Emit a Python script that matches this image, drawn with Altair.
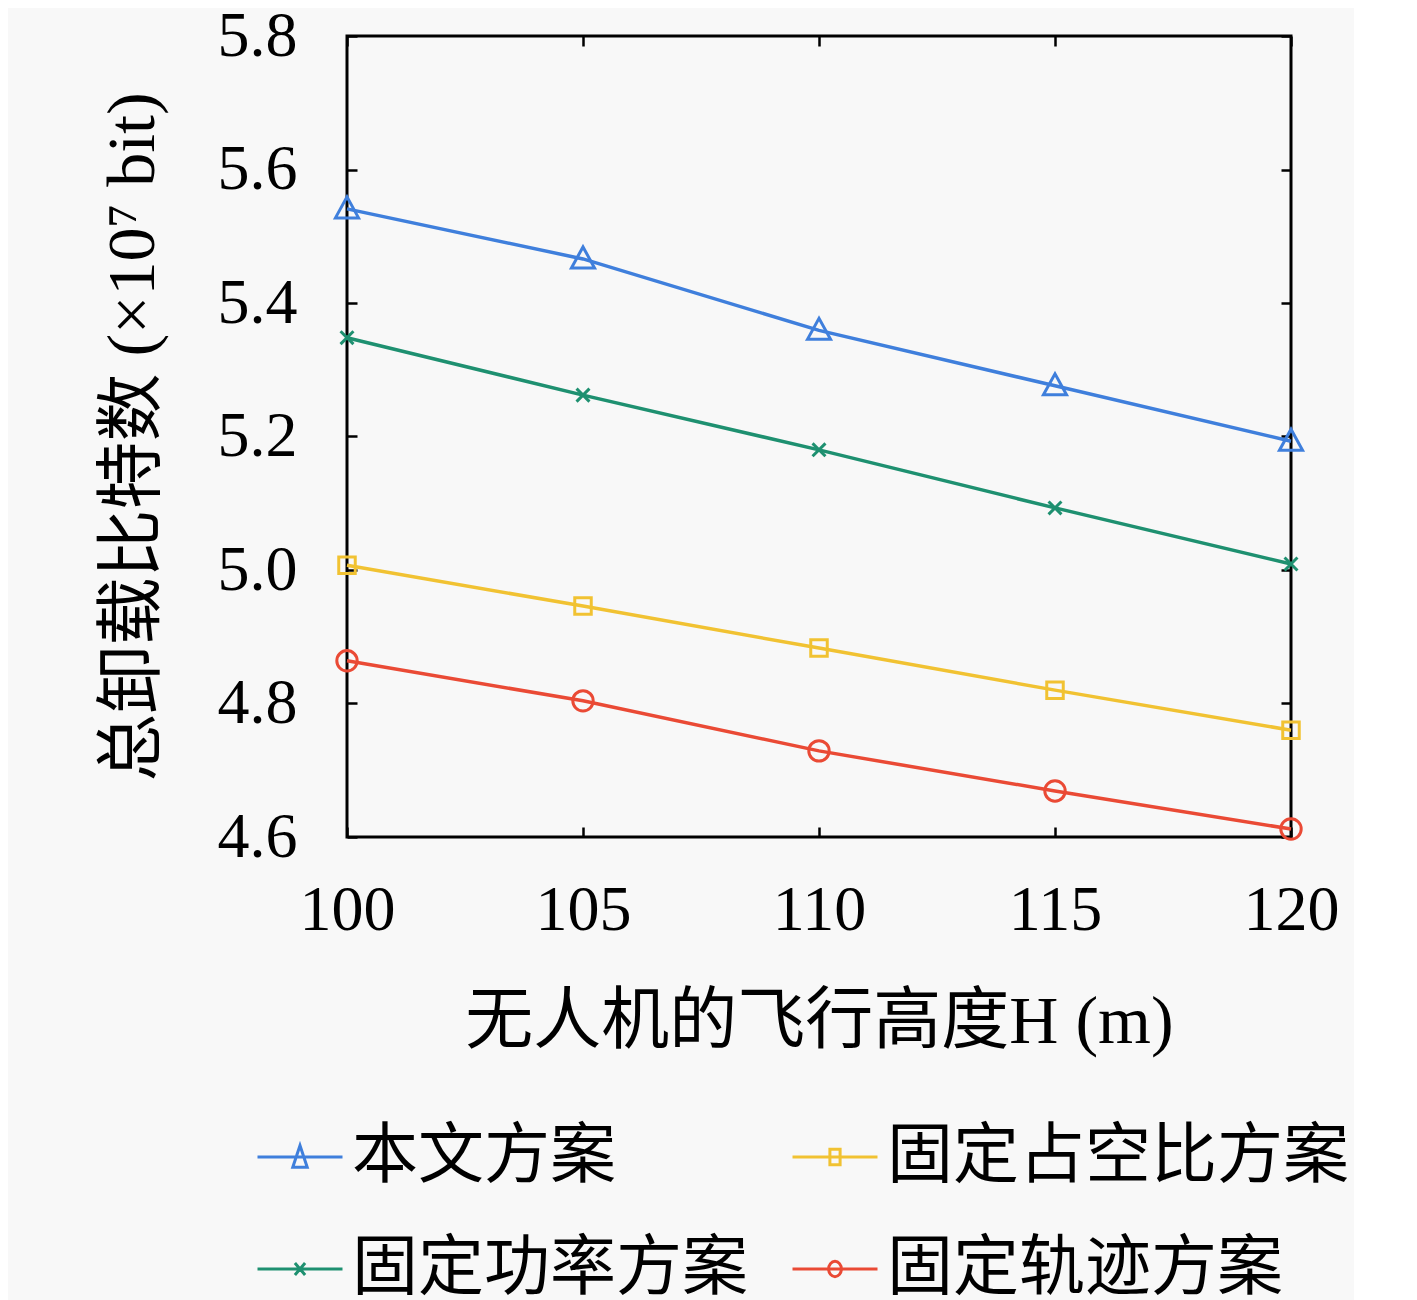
import pandas as pd
import altair as alt

heights = [100, 105, 110, 115, 120]

ours = [5.541, 5.466, 5.359, 5.276, 5.193]
fixed_power = [5.348, 5.262, 5.180, 5.093, 5.009]
fixed_duty = [5.007, 4.946, 4.883, 4.820, 4.760]
fixed_traj = [4.864, 4.804, 4.729, 4.669, 4.612]

# legend fills column by column: first column, then second column
series_names = ['本文方案', '固定功率方案', '固定占空比方案', '固定轨迹方案']
series_vals = [ours, fixed_power, fixed_duty, fixed_traj]
colors = ['#3f7fdc', '#1e9070', '#f1c232', '#ea4a35']

# marker outlines (unit = 15 px at size 900)
shapes = [
    'M-0.77,0.6L0,-0.8L0.77,0.6Z',
    'M-0.43,-0.43L0.43,0.43M-0.43,0.43L0.43,-0.43',
    'M-0.55,-0.55L0.55,-0.55L0.55,0.55L-0.55,0.55Z',
    'M0.68,0A0.68,0.68,0,1,1,-0.68,0A0.68,0.68,0,1,1,0.68,0',
]
# legend symbols: short line with the marker on it (unit = 42.5 px)
legend_shapes = [
    'M-1,0L1,0M-0.17,0.24L0,-0.27L0.17,0.24Z',
    'M-1,0L1,0M-0.12,-0.14L0.12,0.14M-0.12,0.14L0.12,-0.14',
    'M-1,0L1,0M-0.12,-0.18L0.12,-0.18L0.12,0.18L-0.12,0.18Z',
    'M-1,0L1,0M0.15,0A0.15,0.18,0,1,1,-0.15,0A0.15,0.18,0,1,1,0.15,0',
]

rows = []
for name, vals in zip(series_names, series_vals):
    for h, v in zip(heights, vals):
        rows.append({'H': h, 'bits': v, 'series': name})
df = pd.DataFrame(rows)

FONT = 'Liberation Serif, Noto Sans CJK SC'
TICK = 10
y_ticks = [4.6, 4.8, 5.0, 5.2, 5.4, 5.6, 5.8]

x_scale = alt.Scale(domain=[100, 120], nice=False)
y_scale = alt.Scale(domain=[4.6, 5.8], nice=False)

x_axis = alt.Axis(values=heights, tickSize=TICK, offset=-TICK, domain=False, grid=False,
                  labelPadding=41, labelFontSize=64, labelFont=FONT, tickColor='black',
                  tickWidth=2.5, labelColor='black', labelFlush=False,
                  title='无人机的飞行高度H (m)', titleFontSize=68, titleFont=FONT,
                  titleFontWeight='normal', titlePadding=46, titleColor='black')
y_axis = alt.Axis(values=y_ticks, format='.1f', tickSize=TICK,
                  offset=-TICK, domain=False, grid=False, labelPadding=50, labelFontSize=64,
                  labelFont=FONT, tickColor='black', tickWidth=2.5, labelColor='black',
                  labelFlush=False,
                  title='总卸载比特数 (×10⁷ bit)', titleFontSize=68, titleFont=FONT,
                  titleFontWeight='normal', titlePadding=50, titleColor='black')

X = alt.X('H:Q', scale=x_scale, axis=x_axis)
Y = alt.Y('bits:Q', scale=y_scale, axis=y_axis)

color_plain = alt.Color('series:N', scale=alt.Scale(domain=series_names, range=colors), legend=None)

lines = alt.Chart(df).mark_line(strokeWidth=3.5).encode(x=X, y=Y, color=color_plain)

points = alt.Chart(df).mark_point(filled=False, strokeWidth=3, opacity=1, size=900).encode(
    x=X, y=Y, color=color_plain,
    shape=alt.Shape('series:N', scale=alt.Scale(domain=series_names, range=shapes), legend=None),
)

legend = alt.Legend(title=None, orient='none', legendX=-91, legendY=1077, columns=2,
                    labelFontSize=66, labelFont=FONT, labelColor='black', labelOffset=8,
                    symbolSize=7225, symbolStrokeWidth=3, symbolOpacity=1, rowPadding=35,
                    columnPadding=38, labelLimit=0)
legend_only = alt.Chart(df).transform_filter('false').mark_point(
    filled=False, strokeWidth=3, size=7225, opacity=1).encode(
    x=X, y=Y,
    color=alt.Color('series:N', scale=alt.Scale(domain=series_names, range=colors), legend=legend),
    shape=alt.Shape('series:N', scale=alt.Scale(domain=series_names, range=legend_shapes), legend=legend),
)

main = alt.layer(lines, points, legend_only).resolve_scale(color='independent', shape='independent')

# inward ticks on the top and right edges
frame = alt.Chart(df).mark_point(opacity=0).encode(
    x=alt.X('H:Q', scale=x_scale, axis=alt.Axis(orient='top', values=heights, tickSize=TICK,
            offset=-TICK, domain=False, labels=False, grid=False, title=None,
            tickColor='black', tickWidth=2.5)),
    y=alt.Y('bits:Q', scale=y_scale, axis=alt.Axis(orient='right', values=y_ticks,
            tickSize=TICK, offset=-TICK, domain=False, labels=False, grid=False, title=None,
            tickColor='black', tickWidth=2.5)),
)

chart = alt.layer(main, frame).resolve_axis(x='independent', y='independent').properties(
    width=944, height=801, background='#f8f8f8',
    padding={'left': 91, 'top': -4, 'right': 5, 'bottom': 5}
).configure_view(stroke='black', strokeWidth=3)

chart.save('out.html', embed_options={'renderer': 'svg', 'actions': False})
